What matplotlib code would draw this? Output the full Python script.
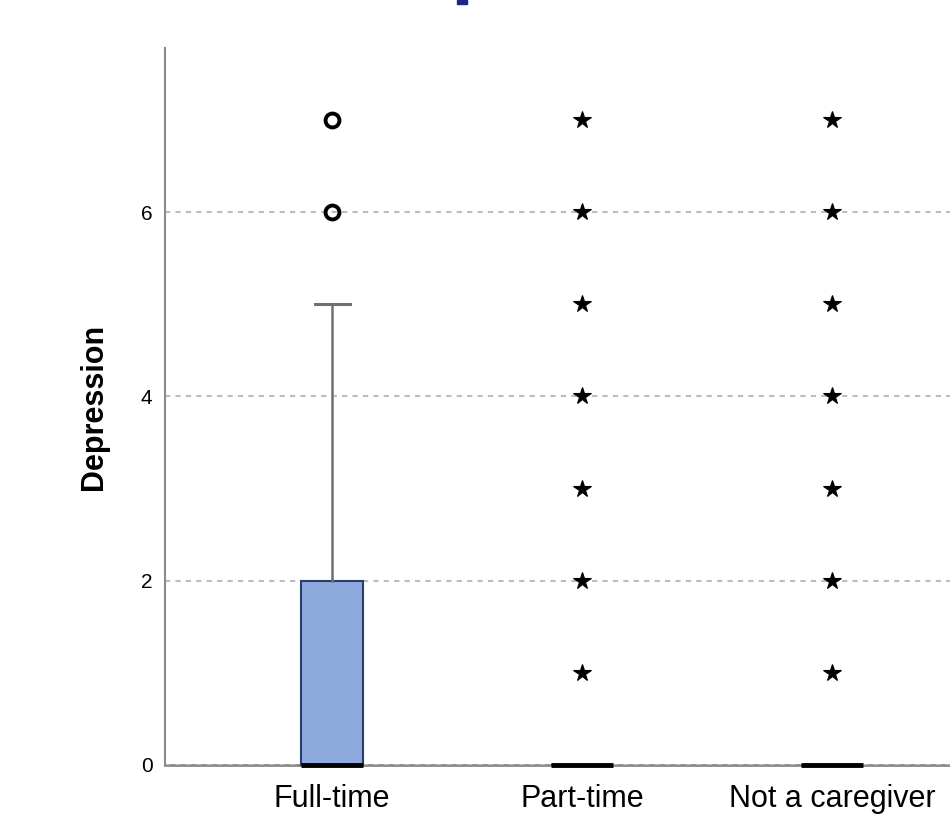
import numpy as np
import matplotlib
matplotlib.use("Agg")
from matplotlib import pyplot as plt
from matplotlib.patches import Rectangle

plt.rcParams['font.family'] = ['Liberation Sans', 'DejaVu Sans']

# data
categories = ["Full-time", "Part-time", "Not a caregiver"]
q1 = [0, 0, 0]
med = [0, 0, 0]
q3 = [2, 0, 0]
whislo = [0, 0, 0]
whishi = [5, 0, 0]
outliers = [[6, 7], [1, 2, 3, 4, 5, 6, 7], [1, 2, 3, 4, 5, 6, 7]]
outlier_marker = ["o", "*", "*"]
yticks = [0, 2, 4, 6]

fig = plt.figure(figsize=(9.5, 8.16), dpi=100)
ax = fig.add_axes([165 / 950, 1 - 765 / 816, 1 - 165 / 950, (765 - 48) / 816])

stats = []
for i in range(len(categories)):
    stats.append({"label": categories[i], "q1": q1[i], "med": med[i], "q3": q3[i],
                  "whislo": whislo[i], "whishi": whishi[i], "fliers": []})

pos = np.arange(len(categories))
ax.bxp(stats, positions=pos, widths=0.25, capwidths=0.14, showfliers=False,
       patch_artist=True,
       boxprops=dict(facecolor="#8eaadc", edgecolor="#2b3f6b", linewidth=1.5),
       medianprops=dict(color="black", linewidth=3.5, solid_capstyle="butt"),
       whiskerprops=dict(color="#707070", linewidth=1.8),
       capprops=dict(color="#707070", linewidth=2.2))

for i in range(len(categories)):
    ys = outliers[i]
    if outlier_marker[i] == "o":
        ax.plot([pos[i]] * len(ys), ys, "o", markersize=10, markerfacecolor="none",
                markeredgecolor="black", markeredgewidth=2.8, clip_on=False, zorder=5)
    else:
        ax.plot([pos[i]] * len(ys), ys, "*", markersize=13, color="black",
                markeredgewidth=0.8, clip_on=False, zorder=5)

for child in ax.get_children():
    if hasattr(child, "set_clip_on"):
        child.set_clip_on(False)

ax.set_xlim(-0.668, 2.472)
ax.set_ylim(0, 7.78)
ax.set_yticks(yticks)
ax.set_yticklabels([str(t) for t in yticks], fontsize=15)
ax.set_xticks(pos)
ax.set_xticklabels(categories, fontsize=22)
ax.tick_params(axis="both", length=0)
ax.tick_params(axis="y", pad=9)
ax.tick_params(axis="x", pad=14)
ax.set_ylabel("Depression", fontsize=22, fontweight="bold", labelpad=23)

ax.yaxis.grid(True, linestyle=(0, (2.5, 2.5)), color="#bdbdbd", linewidth=1.5)
ax.set_axisbelow(True)
for s in ["top", "right"]:
    ax.spines[s].set_visible(False)
ax.spines["left"].set_color("#8a8a8a")
ax.spines["left"].set_linewidth(1.5)
ax.spines["bottom"].set_color("#8a8a8a")
ax.spines["bottom"].set_linewidth(2)
ax.spines["bottom"].set_zorder(0)

# fragment of the cut-off title
fig.patches.append(Rectangle((457 / 950, 1 - 4 / 816), 10 / 950, 4 / 816,
                             transform=fig.transFigure, color="#1f2580"))

fig.savefig("out.png", dpi=100)
